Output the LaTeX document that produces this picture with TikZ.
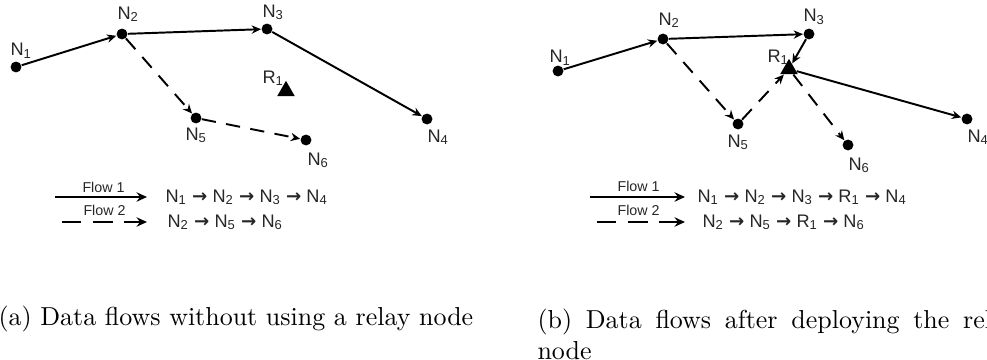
\documentclass[tikz,border=0pt]{standalone}
\usepackage{fontspec}
\newfontfamily\hv{Liberation Sans}
\newfontfamily\dv{DejaVu Sans}
\newcommand\flowarr{{\dv\bfseries →}}
\usetikzlibrary{arrows.meta,shapes.geometric}
\begin{document}
\begin{tikzpicture}[x=0.385pt,y=-0.385pt,
  dot/.style={circle,fill=black,inner sep=0pt,minimum size=4.2pt},
  relay/.style={regular polygon,regular polygon sides=3,fill=black,inner sep=0pt,minimum size=7.8pt},
  lab/.style={font=\hv\fontsize{7}{8}\selectfont,anchor=base west,inner sep=0pt,text=black!85},
  flowlab/.style={font=\hv\fontsize{5.5}{6}\selectfont,anchor=base west,inner sep=0pt,text=black!85},
  seq/.style={font=\hv\fontsize{7}{8}\selectfont,anchor=base west,inner sep=0pt,text=black!85},
  link/.style={line width=0.75pt,-{Stealth[length=3.6pt,width=3.2pt]}},
  leglink/.style={line width=0.75pt,-{Stealth[length=4pt,width=3.6pt]}},
  dlink/.style={link,dash pattern=on 5.5pt off 4pt},
  legdash/.style={leglink,dash pattern=on 7.5pt off 4.5pt},
  captext/.style={font=\fontsize{10}{12}\selectfont,anchor=base west,inner sep=0pt}
]
\useasboundingbox (0,0) rectangle (987,360);
\clip (0,0) rectangle (987,360);

% ---------------- panel (a)
\node[dot] (a1) at (16,67) {};
\node[dot] (a2) at (122,34) {};
\node[dot] (a3) at (267,29) {};
\node[dot] (a4) at (427,119) {};
\node[dot] (a5) at (196,118) {};
\node[dot] (a6) at (306,140) {};
\node[relay] (ar) at (286,91) {};

\node[lab] (la1) at (10,56) {N\textsubscript{1}};
\node[lab] (la2) at (117,19) {N\textsubscript{2}};
\node[lab] (la3) at (262,17) {N\textsubscript{3}};
\node[lab] (la4) at (427,142) {N\textsubscript{4}};
\node[lab] (la5) at (185,140) {N\textsubscript{5}};
\node[lab] (la6) at (307,165) {N\textsubscript{6}};
\node[lab] (lar) at (262,83) {R\textsubscript{1}};

\draw[link] (a1) -- (a2);
\draw[link] (a2) -- (a3);
\draw[link] (a3) -- (a4);
\draw[dlink] (a2) -- (a5);
\draw[dlink] (a5) -- (a6);

% legend (a)
\coordinate (fa1s) at (55,197);
\coordinate (fa1e) at (147,197);
\coordinate (fa2s) at (62,222);
\coordinate (fa2e) at (147,222);
\draw[leglink] (fa1s) -- (fa1e);
\draw[legdash] (fa2s) -- (fa2e);
\node[flowlab] (fla1) at (82,192) {Flow 1};
\node[flowlab] (fla2) at (83,215) {Flow 2};
\node[seq] (sa1) at (165,202) {N\textsubscript{1} \flowarr{} N\textsubscript{2} \flowarr{} N\textsubscript{3} \flowarr{} N\textsubscript{4}};
\node[seq] (sa2) at (167,227) {N\textsubscript{2} \flowarr{} N\textsubscript{5} \flowarr{} N\textsubscript{6}};

% ---------------- panel (b)
\node[dot] (b1) at (558,71) {};
\node[dot] (b2) at (663,39) {};
\node[dot] (b3) at (809,34) {};
\node[dot] (b4) at (967,119) {};
\node[dot] (b5) at (738,124) {};
\node[dot] (b6) at (848,145) {};
\node[relay] (br) at (789,69) {};

\node[lab] (lb1) at (549,63) {N\textsubscript{1}};
\node[lab] (lb2) at (658,25) {N\textsubscript{2}};
\node[lab] (lb3) at (803,22) {N\textsubscript{3}};
\node[lab] (lb4) at (967,142) {N\textsubscript{4}};
\node[lab] (lb5) at (727,147) {N\textsubscript{5}};
\node[lab] (lb6) at (848,170) {N\textsubscript{6}};
\node[lab] (lbr) at (767,62) {R\textsubscript{1}};

\draw[link] (b1) -- (b2);
\draw[link] (b2) -- (b3);
\draw[link] (b3) -- (br);
\draw[link] (br) -- (b4);
\draw[dlink] (b2) -- (b5);
\draw[dlink] (b5) -- (br);
\draw[dlink] (br) -- (b6);

% legend (b)
\coordinate (fb1s) at (590,197);
\coordinate (fb1e) at (685,197);
\coordinate (fb2s) at (597,222);
\coordinate (fb2e) at (685,222);
\draw[leglink] (fb1s) -- (fb1e);
\draw[legdash] (fb2s) -- (fb2e);
\node[flowlab] (flb1) at (617,191) {Flow 1};
\node[flowlab] (flb2) at (617,215) {Flow 2};
\node[seq] (sb1) at (697,202) {N\textsubscript{1} \flowarr{} N\textsubscript{2} \flowarr{} N\textsubscript{3} \flowarr{} R\textsubscript{1} \flowarr{} N\textsubscript{4}};
\node[seq] (sb2) at (702,227) {N\textsubscript{2} \flowarr{} N\textsubscript{5} \flowarr{} R\textsubscript{1} \flowarr{} N\textsubscript{6}};

% captions
\node[captext] (capa) at (-2,325) {(a) Data flows without using a relay node};
\node[captext,anchor=north west,text width=185pt,align=justify] (capb) at (537,308)
  {\hyphenpenalty=10000 (b) Data flows after deploying the relay node};
\end{tikzpicture}
\end{document}
